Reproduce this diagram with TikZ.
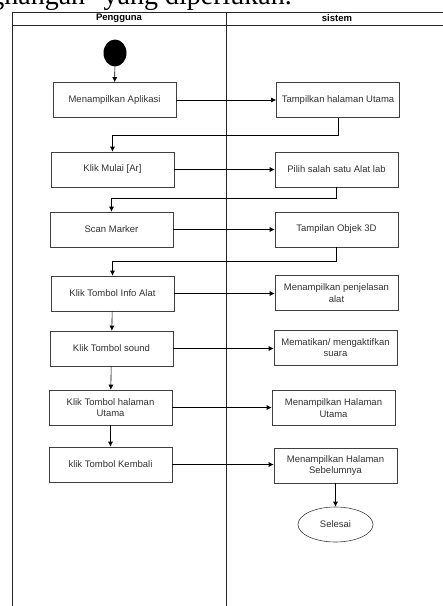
\documentclass[tikz,border=0pt]{standalone}
\usepackage{fontspec}
\setmainfont{Liberation Sans}
\newfontfamily\cutserif{Liberation Serif}
\usetikzlibrary{shapes,arrows.meta,calc}

\begin{document}
\begin{tikzpicture}[x=1pt,y=-1pt,>={Latex[length=5pt,width=5pt]},
	act/.style={draw=black!75, line width=0.6pt, minimum width=123pt, minimum height=35pt, align=center, inner sep=1pt, font=\fontsize{9.5}{11.5}\selectfont, text=black!80},
	lane/.style={draw=black!85, line width=0.7pt},
	head/.style={font=\fontsize{9.5}{11}\selectfont\bfseries},
	flow/.style={->, line width=0.6pt}]
	\useasboundingbox (0,0) rectangle (443,606);
	\clip (0,0) rectangle (443,606);
	% cut text line above the figure
	\node[anchor=base east, inner sep=0pt, font=\cutserif\fontsize{28}{30}\selectfont] (cut) at (292,4) {nghangan" yang diperlukan.};
	% swimlanes
	\draw[lane] (12,620) -- (12,12) -- (448,12) -- (448,620);
	\draw[lane] (12,25) -- (448,25);
	\draw[lane, line width=1pt] (226,12) -- (226,620);
	\node[head] (pengguna) at (119,18.5) {Pengguna};
	\node[head] (sistem) at (337,18.5) {sistem};
	% pengguna
	\node[ellipse, fill=black, minimum width=23pt, minimum height=27pt, inner sep=0pt] (start) at (115,53) {};
	\node[act] (a1) at (114.5,100) {Menampilkan Aplikasi};
	\node[act] (a2) at (112.5,169.5) {Klik Mulai [Ar]};
	\node[act] (a3) at (111.5,229.5) {Scan Marker};
	\node[act] (a4) at (112.5,293.5) {Klik Tombol Info Alat};
	\node[act] (a5) at (111.5,348.5) {Klik Tombol sound};
	\node[act] (a6) at (110.5,407.5) {Klik Tombol halaman\\Utama};
	\node[act] (a7) at (110.5,464.5) {klik Tombol Kembali};
	% sistem
	\node[act] (b1) at (338,100) {Tampilkan halaman Utama};
	\node[act] (b2) at (336.5,169.5) {Pilih salah satu Alat lab};
	\node[act] (b3) at (336.5,229.5) {Tampilan Objek 3D};
	\node[act] (b4) at (336.5,293) {Menampilkan penjelasan\\alat};
	\node[act] (b5) at (335.5,347.5) {Mematikan/ mengaktifkan\\suara};
	\node[act] (b6) at (333.5,408) {Menampilkan Halaman\\Utama};
	\node[act] (b7) at (335.5,465.5) {Menampilkan Halaman\\Sebelumnya};
	\node[ellipse, draw=black!75, line width=0.6pt, minimum width=75pt, minimum height=35pt, font=\fontsize{9.5}{11}\selectfont, text=black!80] (selesai) at (335.5,524.5) {Selesai};
	% alur
	\draw[flow] (start) -- (a1);
	\foreach \i in {1,...,7}
		\draw[flow] (a\i.east) -- (a\i.east -| b\i.west);
	\draw[flow] (b1.south) -- ++(0,17.5) -| (a2.north);
	\draw[flow] (b2.south) -- ++(0,11) -| (a3.north);
	\draw[flow] (b3.south) -- ++(0,14) -| (a4.north);
	\draw[flow] (a4) -- (a5);
	\draw[flow] (a5) -- (a6);
	\draw[flow] (a6) -- (a7);
	\draw[flow] (b7) -- (selesai);
\end{tikzpicture}
\end{document}
